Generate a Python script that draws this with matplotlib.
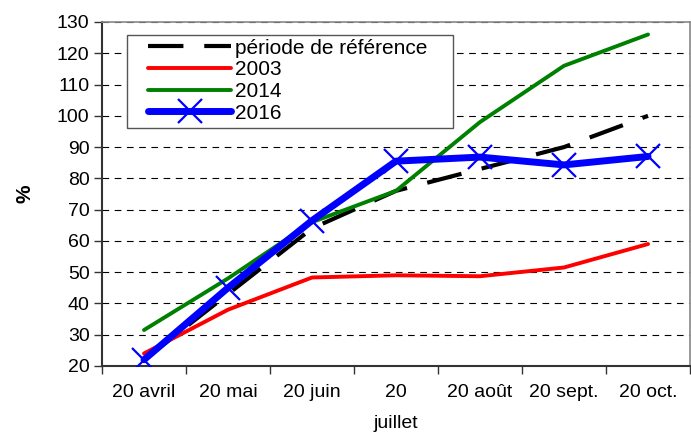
import numpy as np
import matplotlib
matplotlib.use("Agg")
import matplotlib.pyplot as plt
from matplotlib.patches import Rectangle

plt.rcParams["font.family"] = ["Liberation Sans", "DejaVu Sans"]

# =========================
# Data
# =========================
months = ["20 avril", "20 mai", "20 juin", "20\njuillet", "20 août", "20 sept.", "20 oct."]
reference = [22, 43, 64, 76, 83, 90, 100]
y2003 = [24, 38, 48.3, 49, 48.7, 51.5, 59]
y2014 = [31.5, 48, 66, 76, 98, 116, 126]
y2016 = [22, 45, 66.5, 85.5, 86.8, 84.3, 87]

x = np.arange(len(months))

# =========================
# Plot
# =========================
fig = plt.figure(figsize=(6.91, 4.32), dpi=100)
ax = fig.add_axes([0.1476, 0.1528, 0.851, 0.7963])

ax.plot(x, reference, color="black", lw=3.0, dashes=(8.5, 5), label="période de référence", zorder=3)
ax.plot(x, y2003, color="#ff0000", lw=2.8, solid_capstyle="round", label="2003", zorder=3)
ax.plot(x, y2014, color="#008000", lw=2.8, solid_capstyle="round", label="2014", zorder=3)
ax.plot(x, y2016, color="#0000ff", lw=5, marker="x", ms=17, mew=1.6,
        solid_capstyle="round", label="2016", zorder=4)

ax.set_xlim(-0.5, len(months) - 0.5)
ax.set_ylim(20, 130)
ax.set_yticks(np.arange(20, 131, 10))

# ticks between categories, labels at centres
ax.set_xticks(np.arange(-0.5, len(months), 1.0))
ax.set_xticklabels([])
ax.set_xticks(x, minor=True)
ax.set_xticklabels(months, minor=True, fontsize=14, linespacing=2.1)
ax.tick_params(axis="x", which="minor", length=0, pad=13)
ax.tick_params(axis="x", which="major", length=6, width=1, color="#333333")
ax.tick_params(axis="y", length=6, width=1, color="#333333", labelsize=14, pad=3)

ax.yaxis.grid(True, color="black", linestyle=(0, (6, 5)), lw=0.8)
ax.set_axisbelow(True)

for side in ["top", "right"]:
    ax.spines[side].set_color("#888888")
    ax.spines[side].set_linewidth(1.2)
for side in ["left", "bottom"]:
    ax.spines[side].set_color("#333333")
    ax.spines[side].set_linewidth(1.5)

ax.set_ylabel("%", fontsize=15, fontweight="bold", labelpad=16)

# legend box drawn separately (wide side padding, tight top/bottom)
ax.add_patch(Rectangle((0.0425, 0.692), 0.554, 0.27, transform=ax.transAxes,
                       facecolor="white", edgecolor="#555555", lw=1.0, zorder=5))
leg = ax.legend(loc="upper left", bbox_to_anchor=(0.078, 0.952), borderaxespad=0,
                fontsize=15, handlelength=4.0, handletextpad=0.2,
                labelspacing=0.13, frameon=False, borderpad=0)
leg.set_zorder(6)

fig.savefig("out.png", dpi=100)
